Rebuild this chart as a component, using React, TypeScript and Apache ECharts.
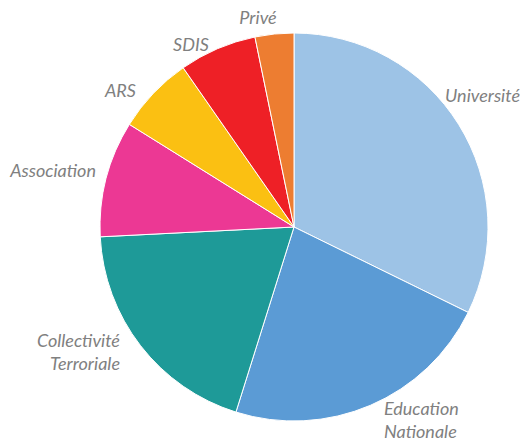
import React, { useEffect, useRef } from "react";
import * as echarts from "echarts";

const categories = ["Université", "Education\nNationale", "Collectivité\nTerroriale", "Association", "ARS", "SDIS", "Privé"];
const values = [10, 7, 6, 3, 2, 2, 1];
const colors = ["#9DC3E6", "#5B9BD5", "#1E9A98", "#EC3894", "#FBC012", "#EE2026", "#ED7D31"];
const labelSpots: { x: number; y: number; align: string }[] = [
  { x: 445, y: 95, align: "left" },
  { x: 384, y: 419, align: "left" },
  { x: 120, y: 351, align: "right" },
  { x: 96, y: 170, align: "right" },
  { x: 136, y: 90, align: "right" },
  { x: 191, y: 44, align: "center" },
  { x: 258, y: 17, align: "center" },
];

export default function App() {
  const ref = useRef<HTMLDivElement>(null);
  useEffect(() => {
    const chart = echarts.init(ref.current!, null, { renderer: "svg" });
    chart.setOption({
      animation: false,
      series: [
        {
          type: "pie",
          center: [294, 227],
          radius: 194,
          startAngle: 90,
          clockwise: true,
          avoidLabelOverlap: false,
          itemStyle: { borderColor: "#fff", borderWidth: 1 },
          label: {
            show: true,
            position: "outside",
            formatter: "{b}",
            color: "#808080",
            fontStyle: "italic",
            fontFamily: "Lato, sans-serif",
            fontSize: 18,
            lineHeight: 23,
          },
          labelLine: { show: false },
          labelLayout: (p: any) => {
            const s = labelSpots[p.dataIndex];
            return { x: s.x, y: s.y, align: s.align, verticalAlign: "middle" };
          },
          data: categories.map((c, i) => ({ name: c, value: values[i], itemStyle: { color: colors[i] } })),
        },
      ],
    });
    return () => chart.dispose();
  }, []);
  return <div ref={ref} style={{ position: "fixed", left: 0, top: 0, width: 524, height: 440, background: "#fff" }} />;
}
